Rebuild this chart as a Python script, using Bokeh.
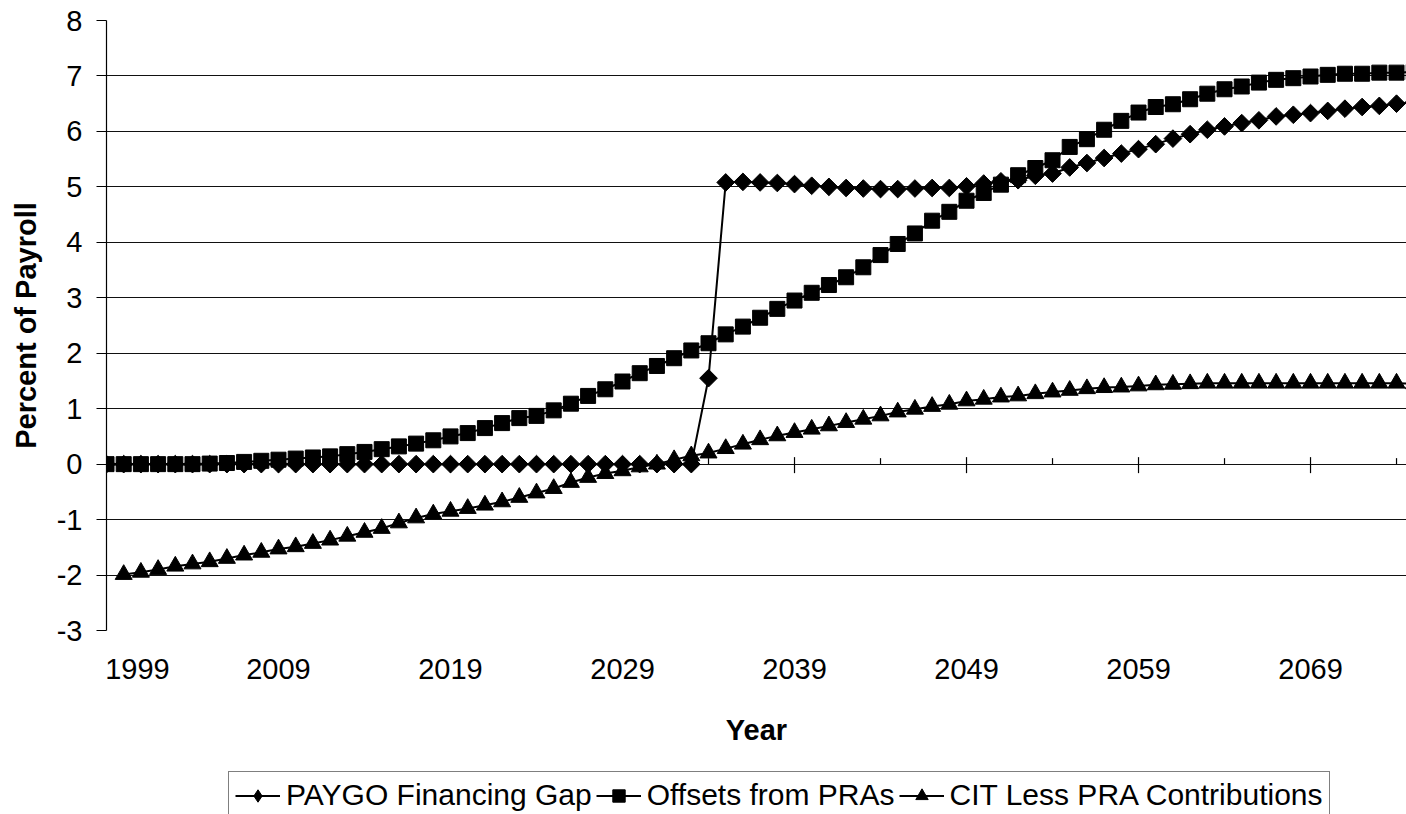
import math

from bokeh.embed import file_html
from bokeh.layouts import column
from bokeh.models import FixedTicker, Legend, LegendItem, Range1d
from bokeh.plotting import figure
from bokeh.resources import INLINE

# ---- data (percent of payroll) -------------------------------------------
years = list(range(1999, 2076))

paygo_gap = [
    0, 0, 0, 0, 0, 0, 0, 0, 0, 0,                                      # 1999-2008
    0, 0, 0, 0, 0, 0, 0, 0, 0, 0,                                      # 2009-2018
    0, 0, 0, 0, 0, 0, 0, 0, 0, 0,                                      # 2019-2028
    0, 0, 0, 0, 0, 1.55, 5.08, 5.09, 5.08, 5.07,                       # 2029-2038
    5.05, 5.02, 5.00, 4.98, 4.97, 4.96, 4.96, 4.97, 4.98, 4.98,        # 2039-2048
    5.01, 5.06, 5.10, 5.12, 5.20, 5.24, 5.35, 5.43, 5.52, 5.60,        # 2049-2058
    5.68, 5.77, 5.87, 5.95, 6.03, 6.09, 6.15, 6.20, 6.27, 6.30,        # 2059-2068
    6.33, 6.37, 6.41, 6.44, 6.46, 6.50, 6.52,                          # 2069-2075
]

pra_offsets = [
    0, 0, 0, 0, 0, 0, 0.01, 0.02, 0.04, 0.06,                          # 1999-2008
    0.08, 0.10, 0.12, 0.14, 0.18, 0.22, 0.27, 0.32, 0.37, 0.43,        # 2009-2018
    0.50, 0.56, 0.65, 0.74, 0.83, 0.87, 0.97, 1.09, 1.23, 1.35,        # 2019-2028
    1.49, 1.64, 1.77, 1.91, 2.05, 2.18, 2.34, 2.48, 2.64, 2.80,        # 2029-2038
    2.95, 3.09, 3.23, 3.37, 3.55, 3.77, 3.97, 4.16, 4.39, 4.55,        # 2039-2048
    4.75, 4.89, 5.04, 5.21, 5.34, 5.48, 5.72, 5.86, 6.03, 6.19,        # 2049-2058
    6.34, 6.44, 6.49, 6.58, 6.68, 6.76, 6.81, 6.88, 6.93, 6.96,        # 2059-2068
    6.99, 7.02, 7.04, 7.04, 7.06, 7.06, 7.07,                          # 2069-2075
]

nan = float("nan")
cit_less_pra = [
    nan, -1.99, -1.95, -1.90, -1.84, -1.80, -1.76, -1.70, -1.64, -1.59,  # 1999-2008
    -1.53, -1.49, -1.43, -1.37, -1.30, -1.23, -1.16, -1.06, -0.97, -0.90,  # 2009-2018
    -0.85, -0.80, -0.74, -0.68, -0.60, -0.52, -0.44, -0.33, -0.24, -0.17,  # 2019-2028
    -0.12, -0.05, 0.00, 0.08, 0.15, 0.20, 0.28, 0.36, 0.44, 0.51,        # 2029-2038
    0.57, 0.63, 0.69, 0.75, 0.81, 0.87, 0.94, 0.99, 1.04, 1.08,          # 2039-2048
    1.14, 1.17, 1.21, 1.23, 1.27, 1.30, 1.33, 1.36, 1.38, 1.39,          # 2049-2058
    1.41, 1.43, 1.44, 1.45, 1.46, 1.46, 1.46, 1.46, 1.46, 1.46,          # 2059-2068
    1.46, 1.46, 1.46, 1.46, 1.46, 1.46, 1.45,                            # 2069-2075
]

series_names = ["PAYGO Financing Gap", "Offsets from PRAs", "CIT Less PRA Contributions"]
series_values = [paygo_gap, pra_offsets, cit_less_pra]
y_tick_values = list(range(-3, 9))
year_labels = ["1999", "2009", "2019", "2029", "2039", "2049", "2059", "2069"]

FONT = "Liberation Sans"
INK = "black"

# chart markers (the diamond is a square turned 45 degrees)
marker_styles = [
    dict(marker="square", size=12.5, angle=math.pi / 4),
    dict(marker="square", size=15),
    dict(marker="triangle", size=17),
]
# legend swatches are drawn unrotated, so the key uses Bokeh's own diamond
key_markers = ["diamond", "square", "triangle"]

# ---- chart -----------------------------------------------------------------
p = figure(
    width=1406, height=760,
    x_range=Range1d(1999, 2074.58), y_range=Range1d(-3, 8),
    output_backend="svg", toolbar_location=None,
    min_border_left=106, min_border_right=0, min_border_top=20, min_border_bottom=130,
    background_fill_color="white", border_fill_color="white",
)
p.outline_line_color = None

# horizontal gridlines at every whole percent
p.xgrid.grid_line_color = None
p.ygrid.ticker = FixedTicker(ticks=y_tick_values)
p.ygrid.grid_line_color = "#111111"
p.ygrid.grid_line_width = 1.2

# value axis
yax = p.yaxis[0]
yax.ticker = FixedTicker(ticks=y_tick_values)
yax.major_label_overrides = {v: str(v) for v in y_tick_values}
yax.axis_line_color = INK
yax.axis_line_width = 1.2
yax.major_tick_out = 10
yax.major_tick_in = 0
yax.major_tick_line_color = INK
yax.minor_tick_line_color = None
yax.major_label_standoff = 14
yax.major_label_text_font = FONT
yax.major_label_text_font_size = "29px"
yax.major_label_text_color = INK
yax.axis_label = "Percent of Payroll"
yax.axis_label_text_font = FONT
yax.axis_label_text_font_size = "29px"
yax.axis_label_text_font_style = "bold"
yax.axis_label_text_color = INK
yax.axis_label_standoff = 12

# year labels sit along the bottom edge; the first one is nudged right of the value axis
label_pos = [int(s) for s in year_labels]
label_pos[0] = label_pos[0] + 1.8
xax = p.xaxis[0]
xax.ticker = FixedTicker(ticks=label_pos)
xax.major_label_overrides = {pos: lab for pos, lab in zip(label_pos, year_labels)}
xax.axis_line_color = None
xax.major_tick_line_color = None
xax.minor_tick_line_color = None
xax.major_tick_out = 0
xax.major_tick_in = 0
xax.major_label_standoff = 28
xax.major_label_text_font = FONT
xax.major_label_text_font_size = "29px"
xax.major_label_text_color = INK
xax.axis_label = "Year"
xax.axis_label_text_font = FONT
xax.axis_label_text_font_size = "29px"
xax.axis_label_text_font_style = "bold"
xax.axis_label_text_color = INK
xax.axis_label_standoff = 32

# category tick marks on the zero line: long crossing ticks every ten years,
# short inside ticks halfway between
major_years = list(range(2009, 2076, 10))
minor_years = list(range(2004, 2076, 10))
p.ray(x=major_years, y=[0] * len(major_years), length=7, angle=math.pi / 2,
      length_units="screen", line_color=INK, line_width=1.2)
p.ray(x=major_years, y=[0] * len(major_years), length=9, angle=-math.pi / 2,
      length_units="screen", line_color=INK, line_width=1.2)
p.ray(x=minor_years, y=[0] * len(minor_years), length=6, angle=math.pi / 2,
      length_units="screen", line_color=INK, line_width=1.2)

for vals, mk in zip(series_values, marker_styles):
    p.line(years, vals, line_color=INK, line_width=2)
    p.scatter(years, vals, fill_color=INK, line_color=INK, line_width=1, **mk)

# ---- legend strip under the chart --------------------------------------------
# The strip repeats the series with the same styling; its ranges keep the
# data out of view so only the legend box shows.
key = figure(
    width=1406, height=54, x_range=Range1d(0, 1), y_range=Range1d(0, 1),
    x_axis_type=None, y_axis_type=None,
    output_backend="svg", toolbar_location=None,
    min_border_left=0, min_border_right=0, min_border_top=0, min_border_bottom=0,
    background_fill_color="white", border_fill_color="white",
)
key.outline_line_color = None
key.grid.grid_line_color = None

items = []
for name, vals, mk in zip(series_names, series_values, key_markers):
    ln = key.line(years, vals, line_color=INK, line_width=2)
    sc = key.scatter(years, vals, marker=mk, fill_color=INK, line_color=INK, line_width=1)
    items.append(LegendItem(label=name, renderers=[ln, sc]))

legend = Legend(
    items=items, orientation="horizontal", location=(122, -5),
    border_line_color=INK, border_line_width=1.2,
    background_fill_color="white",
    label_text_font=FONT, label_text_font_size="30px", label_text_color=INK,
    glyph_width=45, glyph_height=31, label_standoff=6, spacing=4,
    padding=6, margin=0,
)
key.add_layout(legend)

open("out.html", "w").write(file_html(column(p, key, spacing=0), INLINE))
